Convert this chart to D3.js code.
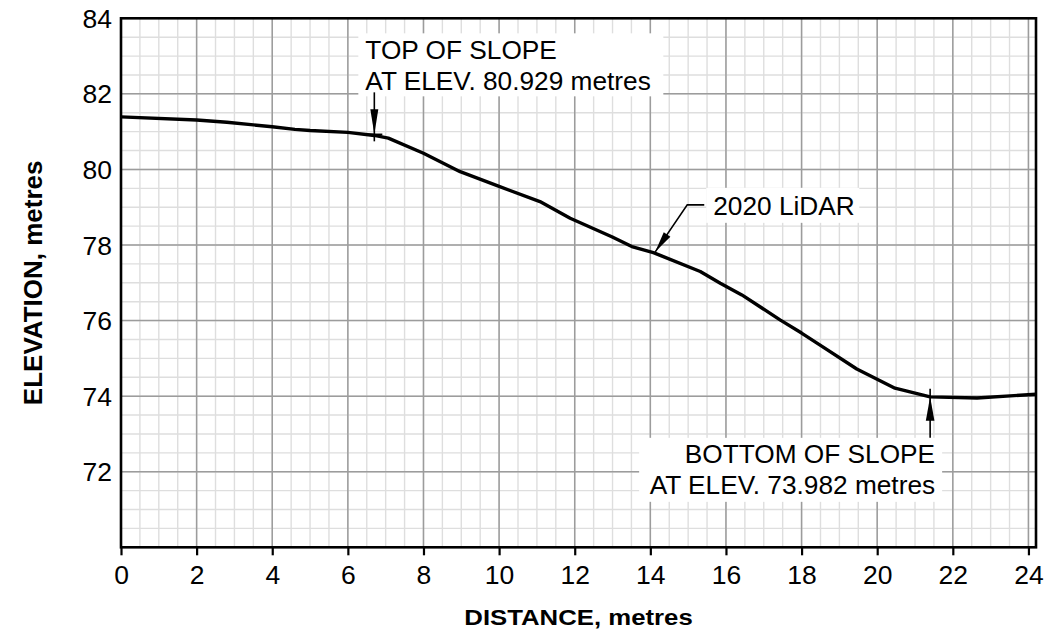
<!DOCTYPE html>
<html><head><meta charset="utf-8">
<script src="https://cdn.jsdelivr.net/npm/d3@7"></script>
<style>body{margin:0;background:#fff}svg{display:block}</style>
</head><body>
<svg id="c" width="1045" height="637"></svg>
<script>
// ---- data ----
const distance  = [0, 2.0, 2.8, 4.0, 4.6, 5.0, 6.0, 6.7, 7.07, 8.0, 8.97, 10.0, 11.08, 11.88, 12.98, 13.51, 14.08, 15.32, 15.85, 16.42, 17.43, 18.0, 18.49, 19.46, 20.47, 21.4, 22.64, 24.2];
const elevation = [81.39, 81.31, 81.25, 81.13, 81.06, 81.03, 80.98, 80.90, 80.83, 80.43, 79.94, 79.55, 79.15, 78.71, 78.22, 77.96, 77.80, 77.30, 76.99, 76.68, 76.02, 75.67, 75.35, 74.72, 74.21, 73.98, 73.95, 74.05];
const xTicks = [0, 2, 4, 6, 8, 10, 12, 14, 16, 18, 20, 22, 24];
const yTicks = [72, 74, 76, 78, 80, 82, 84];
const xMinor = d3.range(0, 24.01, 0.5);
const yMinor = d3.range(70, 84.01, 0.5);
const xMajor = [2, 4, 6, 8, 10, 12, 14, 16, 18, 20, 22, 24];
const yMajor = [72, 74, 76, 78, 80, 82];
const topNote = {lines: ["TOP OF SLOPE", "AT ELEV. 80.929 metres"], d: 6.70, e: 80.929};
const lidarNote = {lines: ["2020 LiDAR"], d: 14.13, e: 77.78};
const botNote = {lines: ["BOTTOM OF SLOPE", "AT ELEV. 73.982 metres"], d: 21.40, e: 73.982};
const xTitle = "DISTANCE, metres";
const yTitle = "ELEVATION, metres";

// ---- layout ----
const L = 121, R = 1036, T = 18.3, B = 547.3;
const FONT = "'Liberation Sans', Arial, Helvetica, sans-serif";
const SX = 1.05;
const x = d3.scaleLinear().domain([0, 24.2]).range([L, R]);
const y = d3.scaleLinear().domain([70, 84]).range([B, T]);
const svg = d3.select("#c");
svg.append("rect").attr("width", 1045).attr("height", 637).attr("fill", "#fff");

// grid
const g = svg.append("g");
g.selectAll(".vm").data(xMinor).join("line")
  .attr("x1", d => x(d)).attr("x2", d => x(d)).attr("y1", T).attr("y2", B)
  .attr("stroke", "#dedede").attr("stroke-width", 1.4);
g.selectAll(".hm").data(yMinor).join("line")
  .attr("y1", d => y(d)).attr("y2", d => y(d)).attr("x1", L).attr("x2", R)
  .attr("stroke", "#dedede").attr("stroke-width", 1.4);
g.selectAll(".vM").data(xMajor).join("line")
  .attr("x1", d => x(d)).attr("x2", d => x(d)).attr("y1", T).attr("y2", B)
  .attr("stroke", "#9c9c9c").attr("stroke-width", 1.5);
g.selectAll(".hM").data(yMajor).join("line")
  .attr("y1", d => y(d)).attr("y2", d => y(d)).attr("x1", L).attr("x2", R)
  .attr("stroke", "#9c9c9c").attr("stroke-width", 1.5);

// axes
const xAxis = d3.axisBottom(x).tickValues(xTicks).tickSize(8).tickFormat(d3.format("d"));
const xg = svg.append("g").attr("transform", `translate(0,${B})`).call(xAxis);
xg.select(".domain").remove();
xg.selectAll(".tick line").attr("stroke", "#000").attr("stroke-width", 2.2);
xg.selectAll(".tick text").remove();
xg.selectAll(".tick").append("text")
  .attr("transform", `translate(0,37) scale(1.06,1)`)
  .attr("text-anchor", "middle").attr("fill", "#000")
  .style("font-family", FONT).style("font-size", "25px")
  .text(d => d);

const yAxis = d3.axisLeft(y).tickValues(yTicks).tickSize(0).tickFormat(d3.format("d"));
const yg = svg.append("g").attr("transform", `translate(${L},0)`).call(yAxis);
yg.select(".domain").remove();
yg.selectAll(".tick text").remove();
yg.selectAll(".tick").append("text")
  .attr("transform", `translate(-9,9) scale(1.06,1)`)
  .attr("text-anchor", "end").attr("fill", "#000")
  .style("font-family", FONT).style("font-size", "25px")
  .text(d => d);

// profile line
const line = d3.line().x((d, i) => x(distance[i])).y(d => y(d));
svg.append("path").datum(elevation).attr("d", line)
  .attr("fill", "none").attr("stroke", "#000").attr("stroke-width", 3.4)
  .attr("stroke-linejoin", "round");

// helpers
function label(xp, yp, txt, anchor) {
  svg.append("text").attr("transform", `translate(${xp},${yp}) scale(${SX},1)`)
    .attr("text-anchor", anchor).attr("fill", "#000")
    .style("font-family", FONT).style("font-size", "25px").text(txt);
}
function arrowHead(tx, ty, fx, fy, len, hw) {
  const dx = fx - tx, dy = fy - ty, l = Math.hypot(dx, dy);
  const ux = dx / l, uy = dy / l;
  const bx = tx + ux * len, by = ty + uy * len;
  svg.append("path")
    .attr("d", `M${tx},${ty}L${bx - uy * hw},${by + ux * hw}L${bx + uy * hw},${by - ux * hw}Z`)
    .attr("fill", "#000");
}
function seg(pts, w) {
  svg.append("path").attr("d", d3.line()(pts)).attr("fill", "none")
    .attr("stroke", "#000").attr("stroke-width", w);
}

// top of slope
{
  const px = x(topNote.d), py = y(topNote.e);
  svg.append("rect").attr("x", px - 16).attr("y", py - 101).attr("width", 305).attr("height", 63).attr("fill", "#fff");
  label(px - 9, py - 75.5, topNote.lines[0], "start");
  label(px - 9, py - 44.5, topNote.lines[1], "start");
  seg([[px, py - 42], [px, py + 7]], 1.6);
  seg([[px - 8, py], [px + 8, py]], 1.6);
  arrowHead(px, py, px, py - 30, 25, 4);
}
// 2020 LiDAR
{
  const px = x(lidarNote.d), py = y(lidarNote.e) - 1.5;
  const kx = px + 32, ky = py - 47;
  svg.append("rect").attr("x", kx + 19).attr("y", ky - 17).attr("width", 153).attr("height", 35).attr("fill", "#fff");
  label(kx + 26, ky + 10, lidarNote.lines[0], "start");
  seg([[kx + 17, ky], [kx, ky], [px, py]], 1.6);
  arrowHead(px, py, kx, ky, 21, 4);
}
// bottom of slope
{
  const px = x(botNote.d), py = y(botNote.e);
  svg.append("rect").attr("x", px - 291).attr("y", py + 41).attr("width", 303).attr("height", 64).attr("fill", "#fff");
  label(px + 5, py + 65.7, botNote.lines[0], "end");
  label(px + 5, py + 97, botNote.lines[1], "end");
  seg([[px, py - 8], [px, py + 41]], 1.6);
  arrowHead(px, py, px, py + 30, 24, 4.3);
}

// frame
svg.append("rect").attr("x", L).attr("y", T).attr("width", R - L).attr("height", B - T)
  .attr("fill", "none").attr("stroke", "#000").attr("stroke-width", 2.6);

// titles
svg.append("text").attr("transform", `translate(${(L + R) / 2},625) scale(1.12,1)`)
  .attr("text-anchor", "middle").attr("fill", "#000")
  .style("font-family", FONT).style("font-size", "23px").style("font-weight", "bold").text(xTitle);
svg.append("text").attr("transform", `translate(41.5,${(T + B) / 2}) rotate(-90)`)
  .attr("text-anchor", "middle").attr("fill", "#000")
  .style("font-family", FONT).style("font-size", "26px").style("font-weight", "bold").text(yTitle);
</script>
</body></html>
